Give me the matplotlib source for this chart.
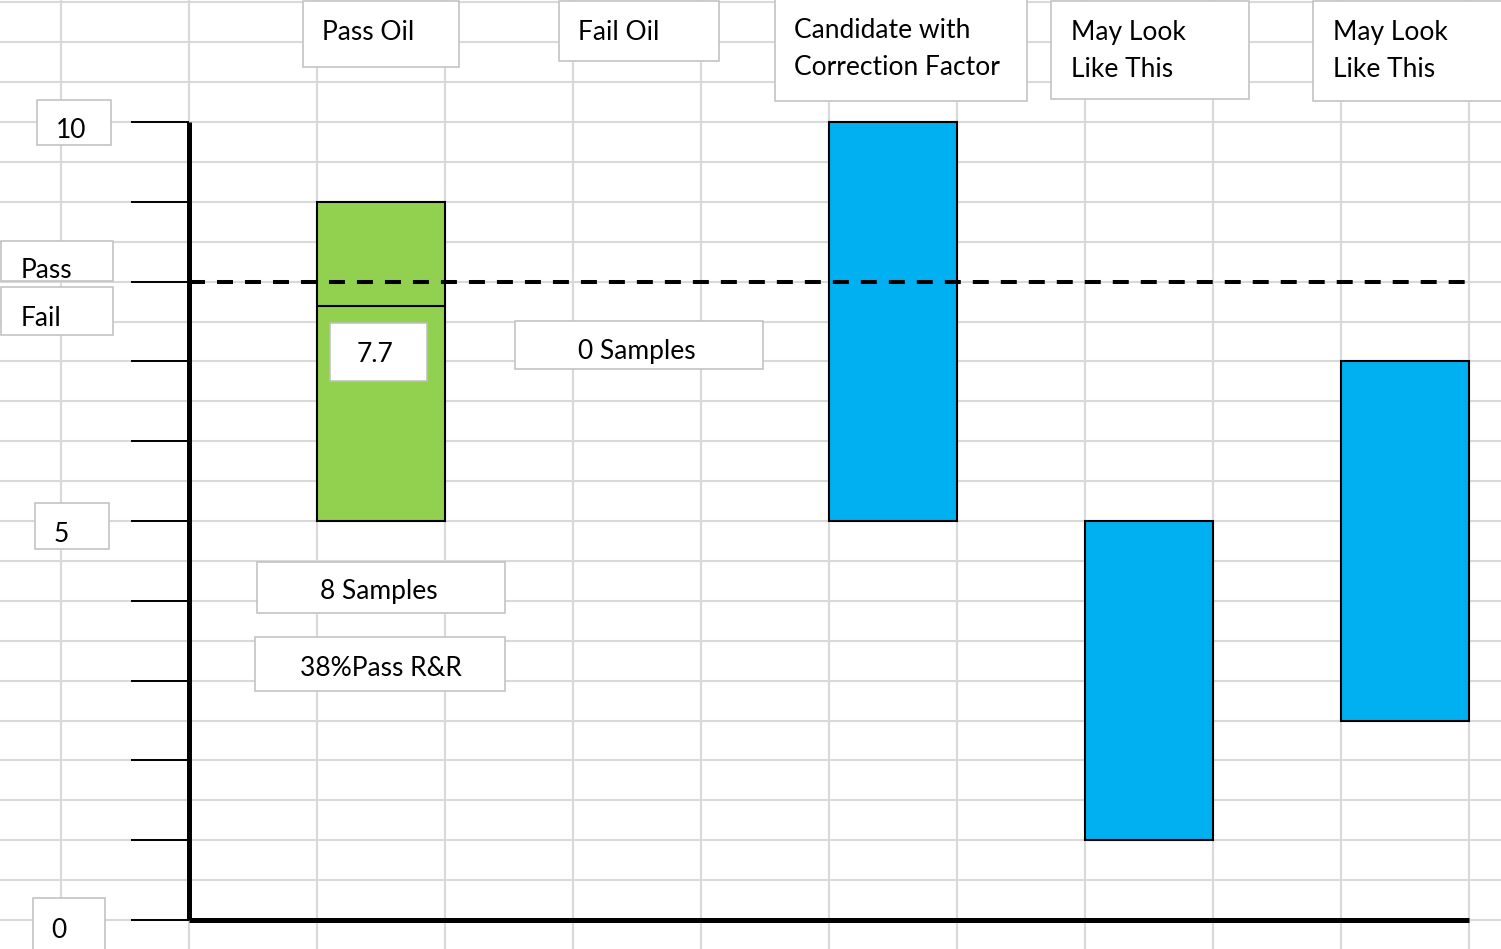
import matplotlib
matplotlib.use("Agg")
import matplotlib.pyplot as plt
from matplotlib.patches import Rectangle

plt.rcParams["font.family"] = ["Lato", "DejaVu Sans"]

# ---- data -------------------------------------------------------------
categories = ["Pass Oil", "Fail Oil", "Candidate with\nCorrection Factor",
              "May Look\nLike This", "May Look\nLike This"]
range_low = [5, None, 5, 1, 2.5]
range_high = [9, None, 10, 5, 7]
bar_colors = ["#92d050", None, "#00b0f0", "#00b0f0", "#00b0f0"]
pass_fail_limit = 8
pass_oil_result = 7.7
sample_counts = [8, 0]          # Pass Oil, Fail Oil
pass_rr_percent = 38
axis_labels = [10, 5, 0]
axis_ticks = list(range(0, 11))

# ---- geometry of the sheet -------------------------------------------
W, H = 1501, 949
COL_PX = 128.0      # width of one sheet column
UNIT_PX = 79.8      # pixels per value unit
X0_PX = 189.0       # x of the value axis
Y0_PX = 920.0       # y of value 0
TEXT_DROP = 2       # nudges text down onto its optical centre

def dx(px):
    return (px - X0_PX) / COL_PX

def dy(py):
    return (Y0_PX - py) / UNIT_PX

fig = plt.figure(figsize=(W / 100, H / 100), dpi=100)
ax = fig.add_axes([0, 0, 1, 1])
ax.set_xlim(dx(0), dx(W))
ax.set_ylim(dy(H), dy(0))
ax.axis("off")

FS = 19
GRID = "#d9d9d9"
BOXEDGE = "#bfbfbf"

# spreadsheet cell grid
for c in range(-1, 11):
    ax.axvline(c, color=GRID, lw=1.5, zorder=0)
v = 0.0
while v <= 11.6:
    ax.axhline(v, color=GRID, lw=1.5, zorder=0)
    v += 0.5

# range bars
n_cols = len(categories)
left_edges = [1 + 2 * i for i in range(n_cols)]
for x, lo, hi, col in zip(left_edges, range_low, range_high, bar_colors):
    if lo is None:
        continue
    ax.bar(x, hi - lo, bottom=lo, width=1, align="edge", color=col,
           edgecolor="black", linewidth=1.5, zorder=3)

# measured result inside the Pass Oil bar
ax.hlines(pass_oil_result, left_edges[0], left_edges[0] + 1,
          color="black", lw=1.5, zorder=4)

# pass / fail limit
ax.plot([0, 10], [pass_fail_limit, pass_fail_limit], color="black",
        lw=2.9, dashes=(3.97, 2.98), zorder=5)

# value axis with ticks
ax.hlines(axis_ticks, -0.45, 0, color="black", lw=1.4, zorder=5)
ax.plot([0, 0], [0, 10], color="black", lw=3.6, zorder=6,
        solid_capstyle="butt")
ax.plot([0, 10], [0, 0], color="black", lw=3.6, zorder=6,
        solid_capstyle="butt")


def label_box(x0, y0, x1, y1, text, tx, ty, ha="left", lsp=1.2):
    """Draw a white, grey-bordered text box given in sheet pixels."""
    ax.add_patch(Rectangle((dx(x0), dy(y1)), dx(x1) - dx(x0),
                           dy(y0) - dy(y1), facecolor="white",
                           edgecolor=BOXEDGE, lw=1.1, zorder=7))
    ax.text(dx(tx), dy(ty + TEXT_DROP), text, ha=ha, va="center",
            fontsize=FS, color="black", zorder=8, linespacing=lsp)


# column headers
header_boxes = [(303, 1, 459, 67, 322, 31),
                (559, 1, 719, 61, 578, 31),
                (775, -2, 1027, 101, 794, 47),
                (1051, 1, 1249, 99, 1071, 49),
                (1313, 1, 1503, 101, 1333, 49)]
for name, (x0, y0, x1, y1, tx, ty) in zip(categories, header_boxes):
    label_box(x0, y0, x1, y1, name, tx, ty, lsp=1.6)

# axis value labels
value_boxes = {10: (37, 100, 111, 145, 71, 128),
               5: (35, 503, 109, 549, 61, 532),
               0: (33, 898, 105, 952, 59, 928)}
for val in axis_labels:
    x0, y0, x1, y1, tx, ty = value_boxes[val]
    label_box(x0, y0, x1, y1, str(val), tx, ty, ha="center")

# pass / fail tags
label_box(1, 241, 113, 281, "Pass", 21, 268)
label_box(1, 287, 113, 335, "Fail", 21, 316)

# result and summary boxes
label_box(330, 323, 427, 381, f"{pass_oil_result}", 375, 352, ha="center")
label_box(257, 562, 505, 613, f"{sample_counts[0]} Samples", 379, 590,
          ha="center")
label_box(255, 637, 505, 691, f"{pass_rr_percent}%Pass R&R", 381, 666,
          ha="center")
label_box(515, 321, 763, 369, f"{sample_counts[1]} Samples", 637, 350,
          ha="center")

fig.savefig("out.png", dpi=100)
